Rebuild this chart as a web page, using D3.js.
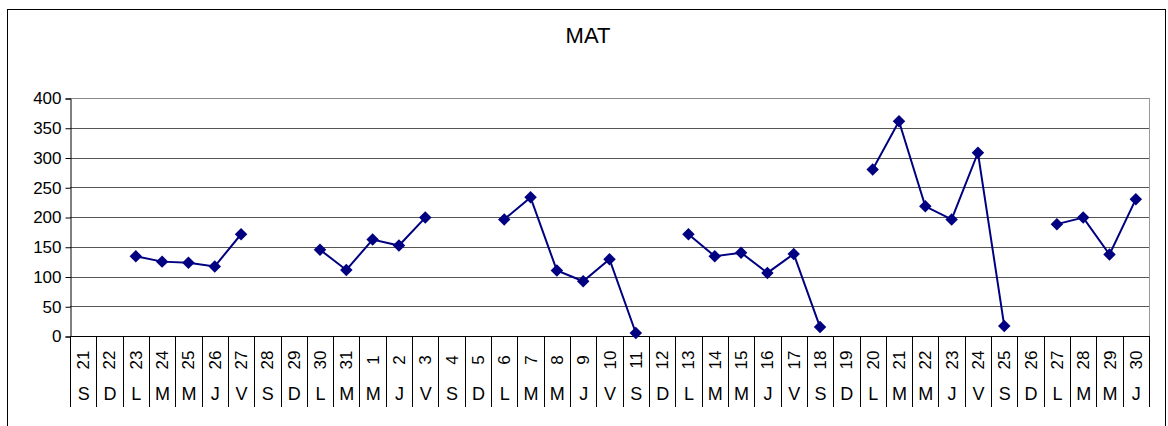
<!DOCTYPE html>
<html>
<head>
<meta charset="utf-8">
<script src="https://cdn.jsdelivr.net/npm/d3@7"></script>
<style>
  body { margin: 0; background: #fff; }
  svg text { font-family: "Liberation Sans", Arial, sans-serif; fill: #000; }
</style>
</head>
<body>
<svg id="chart" width="1168" height="426"></svg>
<script>
// day numbers and weekday letters along the x axis
var days = ["21","22","23","24","25","26","27","28","29","30","31",
  "1","2","3","4","5","6","7","8","9","10","11","12","13","14","15","16","17","18","19","20",
  "21","22","23","24","25","26","27","28","29","30"];
var weekdays = ["S","D","L","M","M","J","V","S","D","L","M",
  "M","J","V","S","D","L","M","M","J","V","S","D","L","M","M","J","V","S","D","L",
  "M","M","J","V","S","D","L","M","M","J"];
// MAT values (null = no reading)
var matValues = [null,null,134,125,123,117,171,null,null,145,111,
  162,152,199,null,null,196,233,110,92,129,5,null,171,134,140,106,138,15,null,280,
  361,218,196,308,17,null,188,199,137,230];
var yTicks = [0,50,100,150,200,250,300,350,400];

function drawChart() {
  var svg = d3.select("#chart");
  var left = 70, right = 1149, top = 98, bottom = 336;

  // outer frame
  svg.append("rect")
    .attr("x", 7.5).attr("y", 9.5)
    .attr("width", 1158).attr("height", 440)
    .attr("fill", "none").attr("stroke", "#000");

  svg.append("text")
    .attr("x", 588).attr("y", 43)
    .attr("text-anchor", "middle")
    .style("font-size", "22px")
    .text("MAT");

  var x = d3.scaleBand()
    .domain(d3.range(days.length))
    .range([left, right])
    .padding(0);
  var y = d3.scaleLinear()
    .domain([0, 400])
    .range([bottom, top]);

  // grid
  svg.append("g").selectAll("line")
    .data(yTicks.slice(1))
    .enter().append("line")
    .attr("x1", left).attr("x2", right)
    .attr("y1", function(d) { return Math.round(y(d)) + 0.5; })
    .attr("y2", function(d) { return Math.round(y(d)) + 0.5; })
    .attr("stroke", function(d) { return d == 400 ? "#888" : "#555"; })
    .attr("stroke-width", 1);
  // plot area right edge (grey)
  svg.append("line")
    .attr("x1", right + 0.5).attr("x2", right + 0.5)
    .attr("y1", top).attr("y2", bottom)
    .attr("stroke", "#999");

  // y axis
  var yAxis = d3.axisLeft(y)
    .tickValues(yTicks)
    .tickSize(5)
    .tickPadding(4);
  var gy = svg.append("g")
    .attr("transform", "translate(" + (left + 0.5) + ",0.5)")
    .call(yAxis);
  gy.select(".domain").attr("stroke", "#000");
  gy.selectAll(".tick line").attr("stroke", "#000");
  gy.selectAll("text").style("font-size", "17px").attr("fill", "#000");

  // category axis: baseline + separators
  svg.append("line")
    .attr("x1", left).attr("x2", right + 1)
    .attr("y1", bottom + 0.5).attr("y2", bottom + 0.5)
    .attr("stroke", "#000");
  var bounds = d3.range(days.length + 1).map(function(i) {
    return i < days.length ? x(i) : x(i - 1) + x.bandwidth();
  });
  svg.append("g").selectAll("line")
    .data(bounds)
    .enter().append("line")
    .attr("x1", function(d) { return Math.round(d) + 0.5; })
    .attr("x2", function(d) { return Math.round(d) + 0.5; })
    .attr("y1", bottom).attr("y2", 407)
    .attr("stroke", "#000");

  // day numbers (rotated)
  svg.append("g").selectAll("text")
    .data(days)
    .enter().append("text")
    .attr("transform", function(d, i) {
      return "translate(" + (x(i) + x.bandwidth() / 2 + 6) + ",360) rotate(-90)";
    })
    .attr("text-anchor", "middle")
    .style("font-size", "17px")
    .text(function(d) { return d; });

  // weekday letters
  svg.append("g").selectAll("text")
    .data(weekdays)
    .enter().append("text")
    .attr("x", function(d, i) { return x(i) + x.bandwidth() / 2 + 0.5; })
    .attr("y", 400)
    .attr("text-anchor", "middle")
    .style("font-size", "18px")
    .text(function(d) { return d; });

  // series line
  var cx = function(i) { return x(i) + x.bandwidth() / 2; };
  var line = d3.line()
    .defined(function(d) { return d != null; })
    .x(function(d, i) { return cx(i); })
    .y(function(d) { return y(d); });
  svg.append("path")
    .datum(matValues)
    .attr("d", line)
    .attr("fill", "none")
    .attr("stroke", "#000080")
    .attr("stroke-width", 2);

  // diamond markers
  var diamond = d3.symbol().type(d3.symbolSquare).size(78);
  svg.append("g").selectAll("path")
    .data(matValues.map(function(v, i) { return { v: v, i: i }; })
      .filter(function(d) { return d.v != null; }))
    .enter().append("path")
    .attr("d", diamond)
    .attr("transform", function(d) {
      return "translate(" + cx(d.i) + "," + y(d.v) + ") rotate(45)";
    })
    .attr("fill", "#000080");
}

drawChart();
</script>
</body>
</html>
